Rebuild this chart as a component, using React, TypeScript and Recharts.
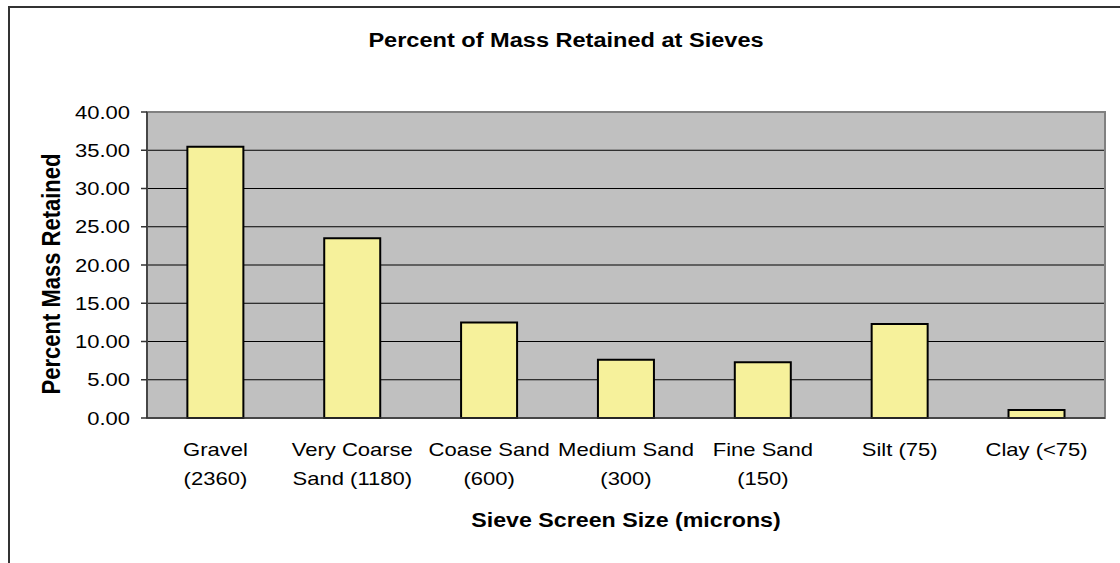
import React from "react";
import {
  BarChart,
  Bar,
  XAxis,
  YAxis,
  CartesianGrid,
  ReferenceArea,
} from "recharts";

const categories = [
  "Gravel (2360)",
  "Very Coarse Sand (1180)",
  "Coase Sand (600)",
  "Medium Sand (300)",
  "Fine Sand (150)",
  "Silt (75)",
  "Clay (<75)",
];
const tickLabelLines = [
  ["Gravel", "(2360)"],
  ["Very Coarse", "Sand (1180)"],
  ["Coase Sand", "(600)"],
  ["Medium Sand", "(300)"],
  ["Fine Sand", "(150)"],
  ["Silt (75)"],
  ["Clay (<75)"],
];
const retained = [35.45, 23.5, 12.5, 7.6, 7.3, 12.3, 1.05];
const yTicks = [0, 5, 10, 15, 20, 25, 30, 35, 40];
const edgeTicks = [0, 1, 2, 3, 4, 5, 6, 7];

const chartTitle = "Percent of Mass Retained at Sieves";
const xTitle = "Sieve Screen Size (microns)";
const yTitle = "Percent Mass Retained";

const data = categories.map((c, i) => ({ name: c, value: retained[i] }));

const FONT = "'Liberation Sans', Arial, sans-serif";
const SX = 1.19;

const XTick = (props: any) => {
  const { x, y, payload } = props;
  const idx = categories.indexOf(payload.value);
  const lines = tickLabelLines[idx] || [payload.value];
  return (
    <g>
      {lines.map((ln, i) => (
        <g key={i} transform={`translate(${x},${y + 36.5 + i * 29.5}) scale(${SX},1)`}>
          <text x={0} y={0} textAnchor="middle" fontFamily={FONT} fontSize={18.5} fill="#000">
            {ln}
          </text>
        </g>
      ))}
    </g>
  );
};

const YTick = (props: any) => {
  const { x, y, payload } = props;
  return (
    <g transform={`translate(${x},${y + 6.5}) scale(${SX},1)`}>
      <text x={0} y={0} textAnchor="end" fontFamily={FONT} fontSize={18.5} fill="#000">
        {Number(payload.value).toFixed(2)}
      </text>
    </g>
  );
};

export default function App() {
  return (
    <div
      style={{
        position: "fixed",
        left: 0,
        top: 0,
        width: 1120,
        height: 563,
        overflow: "hidden",
        background: "#fff",
      }}
    >
      <div
        style={{
          position: "absolute",
          left: 8,
          top: 6,
          width: 1300,
          height: 800,
          border: "2px solid #333",
          boxSizing: "border-box",
        }}
      />
      <div style={{ position: "absolute", left: 0, top: 0 }}>
        <BarChart
          width={1120}
          height={563}
          data={data}
          margin={{ top: 112, right: 15, bottom: 44, left: 47 }}
          barCategoryGap="29.5%"
        >
          <CartesianGrid
            horizontal={true}
            vertical={false}
            stroke="#000"
            strokeWidth={1}
            fill="#C0C0C0"
            fillOpacity={1}
            xAxisId="b"
          />
          <XAxis
            xAxisId="a"
            type="number"
            domain={[0, 7]}
            ticks={edgeTicks}
            allowDataOverflow
            height={1}
            tick={false}
            tickSize={6}
            tickLine={{ stroke: "#333", strokeWidth: 1.5 }}
            axisLine={{ stroke: "#333", strokeWidth: 1.5 }}
          />
          <XAxis
            xAxisId="b"
            dataKey="name"
            type="category"
            height={100}
            interval={0}
            tickSize={0}
            tickMargin={0}
            tickLine={false}
            axisLine={false}
            tick={<XTick />}
          />
          <YAxis
            domain={[0, 40]}
            ticks={yTicks}
            width={100}
            interval={0}
            tickSize={6}
            tickMargin={11}
            tickLine={{ stroke: "#333", strokeWidth: 1.5 }}
            axisLine={{ stroke: "#333", strokeWidth: 1.5 }}
            tick={<YTick />}
          />
          <Bar
            xAxisId="b"
            dataKey="value"
            fill="#F6F19B"
            stroke="#000"
            strokeWidth={2}
            isAnimationActive={false}
          />
          <ReferenceArea
            xAxisId="b"
            y1={0}
            y2={40}
            fill="none"
            fillOpacity={0}
            stroke="#808080"
            strokeWidth={2}
            ifOverflow="visible"
          />
        </BarChart>
      </div>
      <svg
        width={1120}
        height={563}
        style={{ position: "absolute", left: 0, top: 0, pointerEvents: "none" }}
      >
        <g transform={`translate(566,47) scale(${SX},1)`}>
          <text x={0} y={0} textAnchor="middle" fontFamily={FONT} fontWeight="bold" fontSize={19.8} fill="#000">
            {chartTitle}
          </text>
        </g>
        <g transform={`translate(626,527) scale(${SX},1)`}>
          <text x={0} y={0} textAnchor="middle" fontFamily={FONT} fontWeight="bold" fontSize={19.5} fill="#000">
            {xTitle}
          </text>
        </g>
        <g transform={`translate(60,274) scale(${SX},1) rotate(-90)`}>
          <text x={0} y={0} textAnchor="middle" fontFamily={FONT} fontWeight="bold" fontSize={22} fill="#000">
            {yTitle}
          </text>
        </g>
      </svg>
    </div>
  );
}
